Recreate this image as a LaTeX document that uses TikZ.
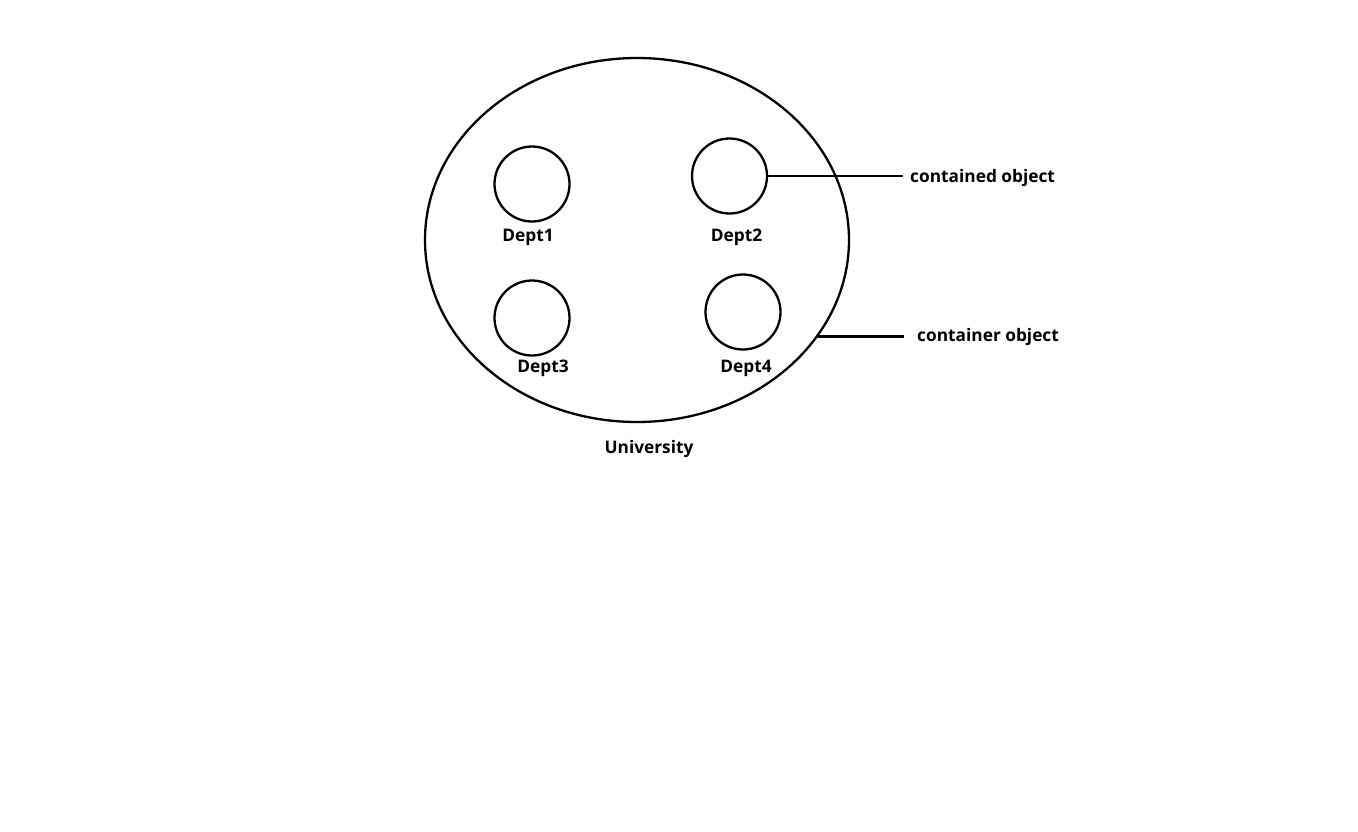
\documentclass[tikz,border=0pt]{standalone}
\usepackage{fontspec}
\setmainfont{Open Sans}
\usetikzlibrary{shapes.geometric}
\begin{document}
\begin{tikzpicture}[x=1pt,y=-1pt,
    whole/.style={
      % The shape:
      ellipse,minimum width=424pt,minimum height=364pt,inner sep=0pt,
      % The rest
      line width=2.3pt,draw=black},
    part/.style={
      circle,minimum size=75pt,inner sep=0pt,
      line width=2.3pt,draw=black},
    tag/.style={font=\fontsize{17.3}{20}\selectfont\bfseries,inner sep=0pt}]
    \useasboundingbox (0,0) rectangle (1358,831);
    \node (univ)  [whole] at (637,240) {};
    \node (dept1) [part] at (532,184) {};
    \node (dept2) [part] at (729.5,176) {};
    \node (dept3) [part] at (532,318) {};
    \node (dept4) [part] at (743,312) {};
    \node (dept1l) [tag] at (528,237) {Dept1};
    \node (dept2l) [tag] at (736.5,237) {Dept2};
    \node (dept3l) [tag] at (543,368) {Dept3};
    \node (dept4l) [tag] at (746,368) {Dept4};
    \node (univl)  [tag] at (649,449) {University};
    \node (partl)  [tag,anchor=west] at (910,178) {contained object};
    \node (wholel) [tag,anchor=west] at (917,337) {container object};
    \coordinate (partend) at (903,176);
    \coordinate (wholeend) at (904,337);
    \draw[line width=2.3pt]  (dept2.east) -- (dept2.east -| partend);
    \draw[line width=2.3pt]  (univ.-28.4) -- (univ.-28.4 -| wholeend);
  \end{tikzpicture}
\end{document}
